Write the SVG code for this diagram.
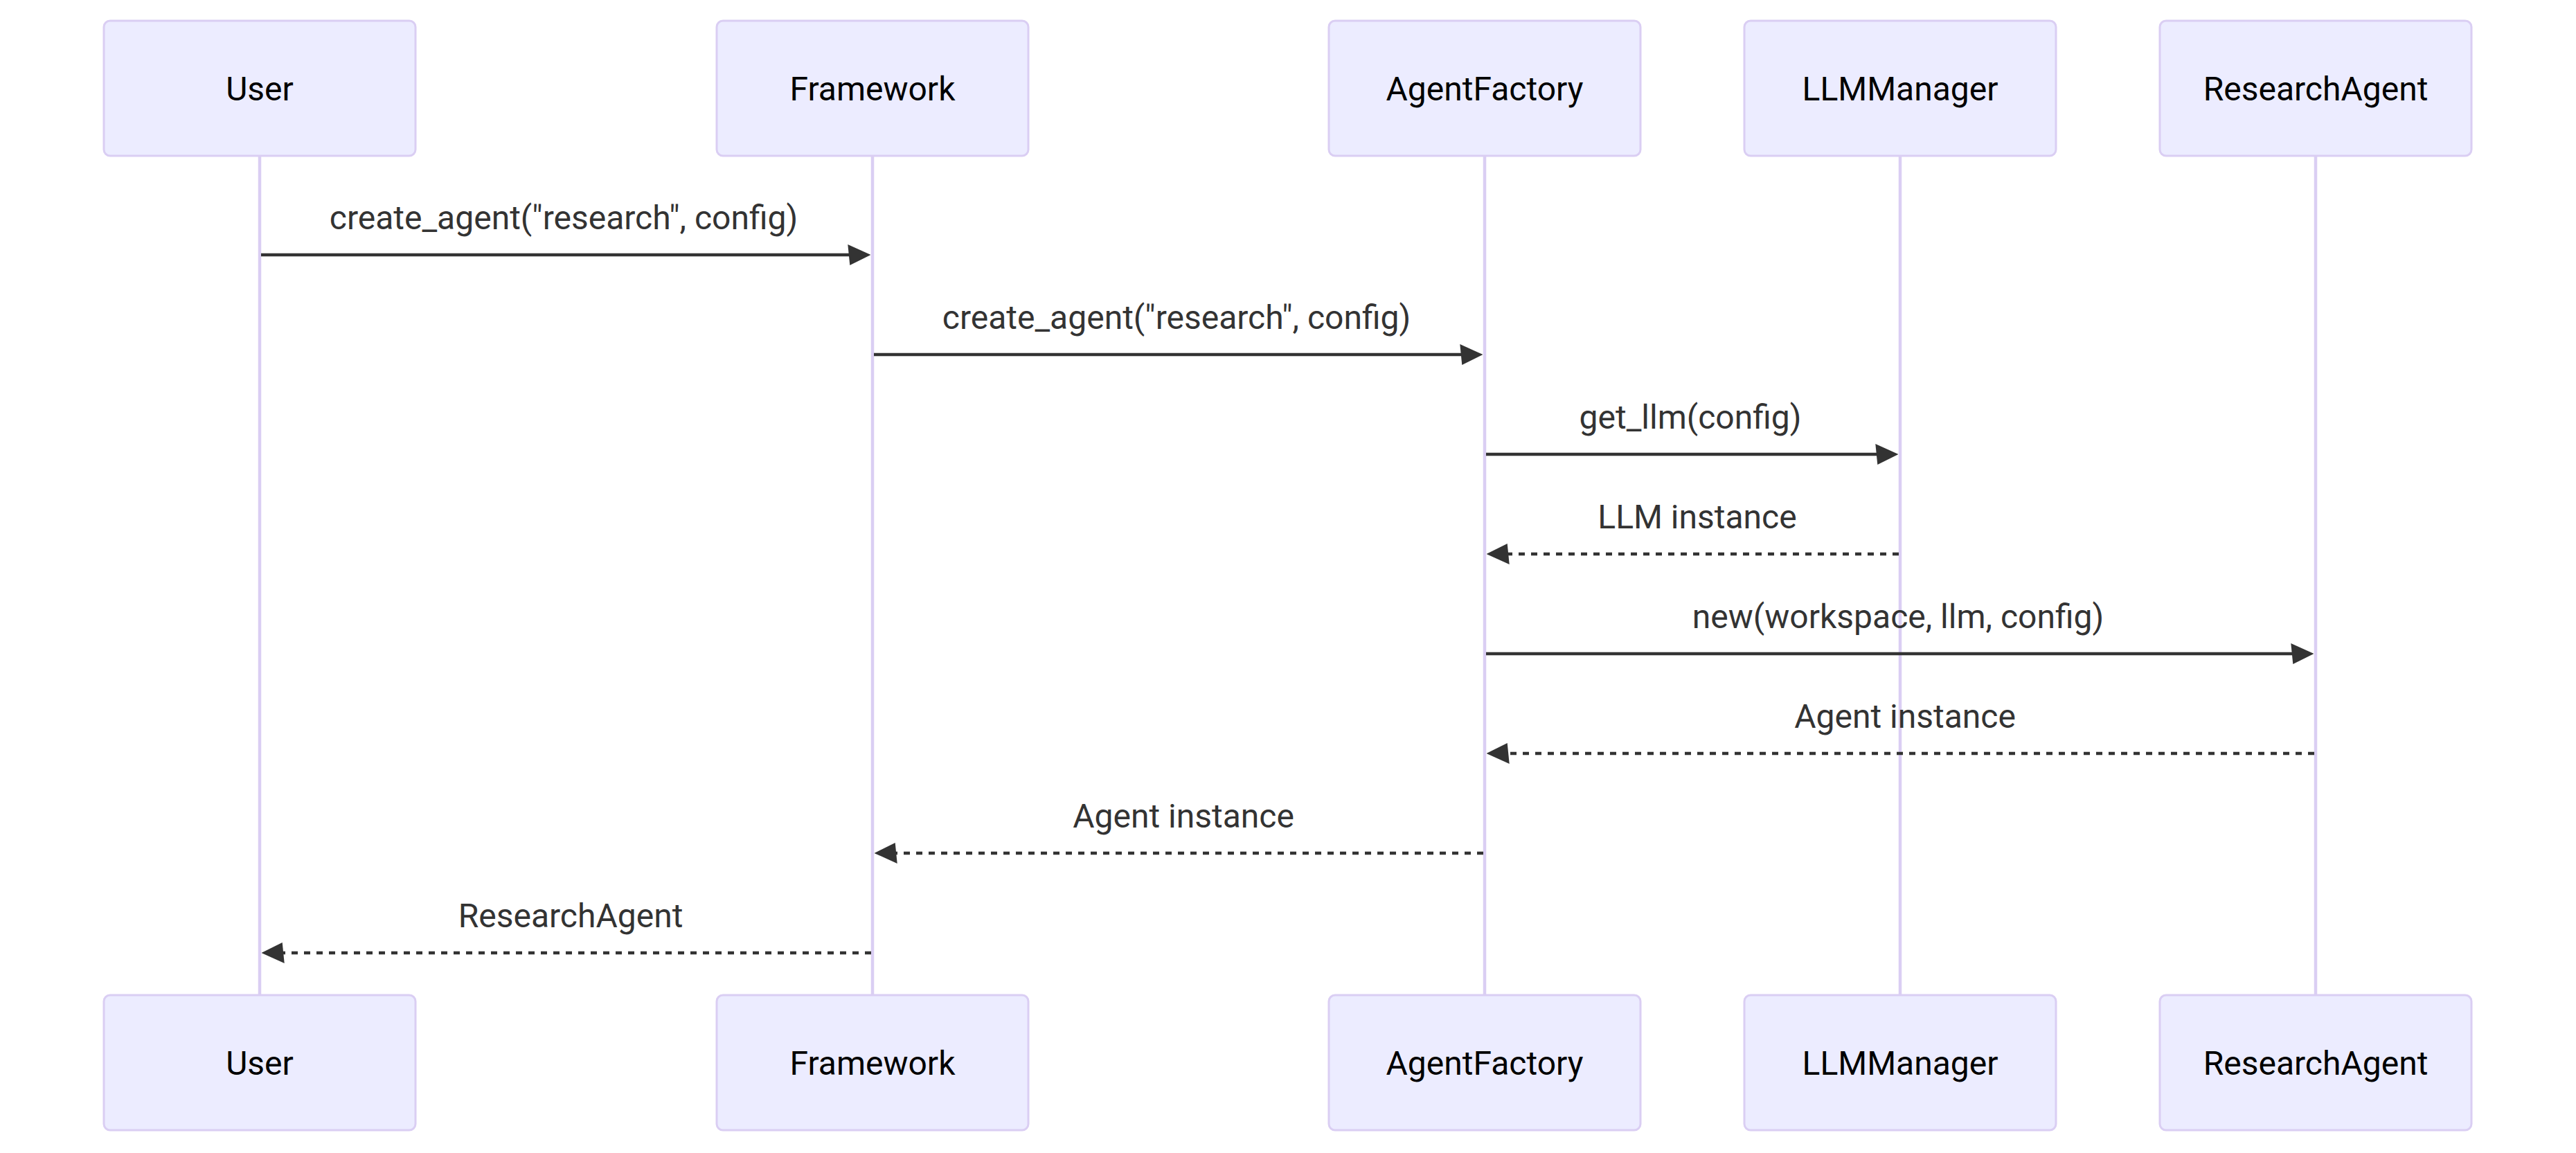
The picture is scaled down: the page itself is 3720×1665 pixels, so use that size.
<svg xmlns="http://www.w3.org/2000/svg" width="3720" height="1665" viewBox="0 0 3720 1665">
<style>
.bg{fill:#ffffff}
.actor{fill:#ECECFF;stroke:#DACEF3;stroke-width:3}
.actor-text{font-family:Roboto,"Liberation Sans",sans-serif;font-size:48px;fill:#000000;text-anchor:middle}
.lifeline{stroke:#DACEF3;stroke-width:4.5;fill:none}
.msg{stroke:#333333;stroke-width:4.5;fill:none}
.dash{stroke-dasharray:9,9}
.msg-text{font-family:Roboto,"Liberation Sans",sans-serif;font-size:48px;fill:#333333;text-anchor:middle}
</style>
<defs>
<marker id="arrowhead" markerUnits="userSpaceOnUse" viewBox="-1 0 11 10" markerWidth="33" markerHeight="30" refX="7.9" refY="5" orient="auto">
<path d="M -1 0 L 10 5 L 0 10 z" fill="#333333"/>
</marker>
</defs>
<rect class="bg" x="0" y="0" width="3720" height="1665"/>
<g id="lifelines">
<line class="lifeline" x1="375" y1="225" x2="375" y2="1437"/>
<line class="lifeline" x1="1260" y1="225" x2="1260" y2="1437"/>
<line class="lifeline" x1="2144" y1="225" x2="2144" y2="1437"/>
<line class="lifeline" x1="2744" y1="225" x2="2744" y2="1437"/>
<line class="lifeline" x1="3344" y1="225" x2="3344" y2="1437"/>
</g>
<g id="actor-user">
<rect class="actor" x="150" y="30" width="450" height="195" rx="9" ry="9"/>
<text class="actor-text" x="375" y="145">User</text>
<rect class="actor" x="150" y="1437" width="450" height="195" rx="9" ry="9"/>
<text class="actor-text" x="375" y="1552">User</text>
</g>
<g id="actor-framework">
<rect class="actor" x="1035" y="30" width="450" height="195" rx="9" ry="9"/>
<text class="actor-text" x="1260" y="145">Framework</text>
<rect class="actor" x="1035" y="1437" width="450" height="195" rx="9" ry="9"/>
<text class="actor-text" x="1260" y="1552">Framework</text>
</g>
<g id="actor-agentfactory">
<rect class="actor" x="1919" y="30" width="450" height="195" rx="9" ry="9"/>
<text class="actor-text" x="2144" y="145">AgentFactory</text>
<rect class="actor" x="1919" y="1437" width="450" height="195" rx="9" ry="9"/>
<text class="actor-text" x="2144" y="1552">AgentFactory</text>
</g>
<g id="actor-llmmanager">
<rect class="actor" x="2519" y="30" width="450" height="195" rx="9" ry="9"/>
<text class="actor-text" x="2744" y="145">LLMManager</text>
<rect class="actor" x="2519" y="1437" width="450" height="195" rx="9" ry="9"/>
<text class="actor-text" x="2744" y="1552">LLMManager</text>
</g>
<g id="actor-researchagent">
<rect class="actor" x="3119" y="30" width="450" height="195" rx="9" ry="9"/>
<text class="actor-text" x="3344" y="145">ResearchAgent</text>
<rect class="actor" x="3119" y="1437" width="450" height="195" rx="9" ry="9"/>
<text class="actor-text" x="3344" y="1552">ResearchAgent</text>
</g>
<g id="messages">
<text class="msg-text" x="814" y="331">create_agent("research", config)</text>
<line class="msg" x1="377" y1="368" x2="1251" y2="368" marker-end="url(#arrowhead)"/>
<text class="msg-text" x="1699" y="475">create_agent("research", config)</text>
<line class="msg" x1="1262" y1="512" x2="2135" y2="512" marker-end="url(#arrowhead)"/>
<text class="msg-text" x="2441" y="619">get_llm(config)</text>
<line class="msg" x1="2146" y1="656" x2="2735" y2="656" marker-end="url(#arrowhead)"/>
<text class="msg-text" x="2451" y="763">LLM instance</text>
<line class="msg dash" x1="2742" y1="800" x2="2153" y2="800" marker-end="url(#arrowhead)"/>
<text class="msg-text" x="2741" y="907">new(workspace, llm, config)</text>
<line class="msg" x1="2146" y1="944" x2="3335" y2="944" marker-end="url(#arrowhead)"/>
<text class="msg-text" x="2751" y="1051">Agent instance</text>
<line class="msg dash" x1="3342" y1="1088" x2="2153" y2="1088" marker-end="url(#arrowhead)"/>
<text class="msg-text" x="1709" y="1195">Agent instance</text>
<line class="msg dash" x1="2142" y1="1232" x2="1269" y2="1232" marker-end="url(#arrowhead)"/>
<text class="msg-text" x="824" y="1339">ResearchAgent</text>
<line class="msg dash" x1="1258" y1="1376" x2="384" y2="1376" marker-end="url(#arrowhead)"/>
</g>
</svg>
